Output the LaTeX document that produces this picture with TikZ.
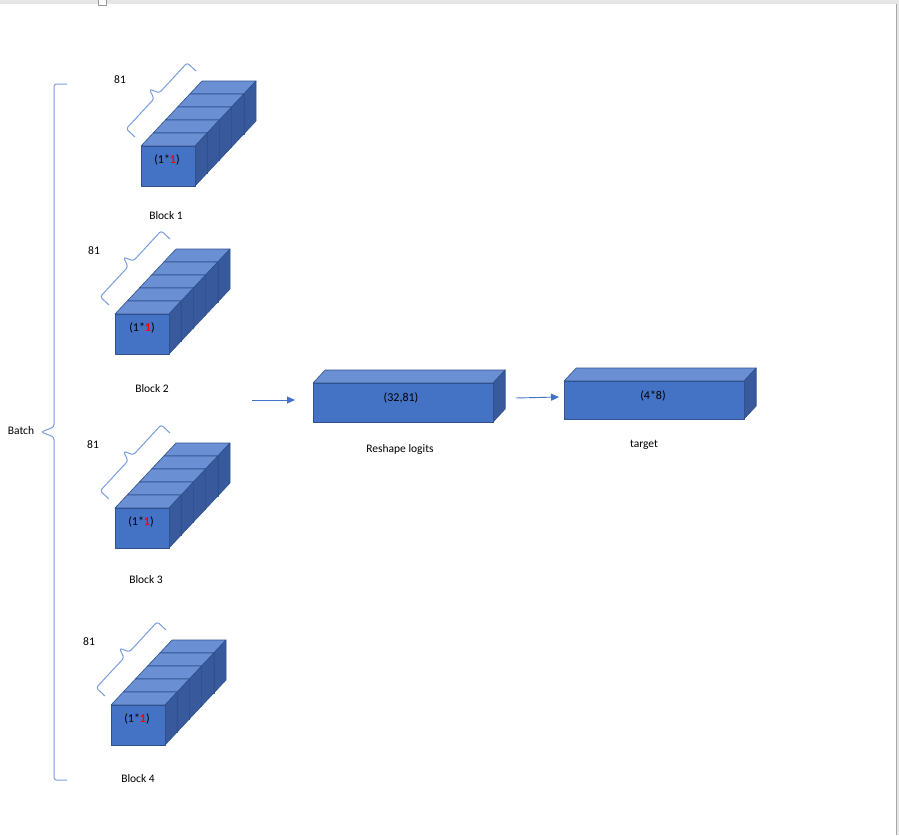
\documentclass[tikz,border=0pt]{standalone}
\usepackage{fontspec}
\setmainfont{Carlito}
\usetikzlibrary{arrows.meta}
\definecolor{frontc}{RGB}{68,114,196}
\definecolor{topc}{RGB}{106,143,210}
\definecolor{sidec}{RGB}{56,90,156}
\definecolor{edgec}{RGB}{47,82,143}
\definecolor{bracec}{RGB}{120,157,222}
\definecolor{arrowc}{RGB}{68,114,196}
\definecolor{chromec}{RGB}{230,230,230}
\newcommand\cubebox[4]{%
  \path[boxface,fill=topc] ({#1},{#2}) -- ({#1+12.2},{#2-13}) -- ({#1+#3+12.2},{#2-13}) -- ({#1+#3},{#2}) -- cycle;
  \path[boxface,fill=sidec] ({#1+#3},{#2}) -- ({#1+#3+12.2},{#2-13}) -- ({#1+#3+12.2},{#2+#4-13}) -- ({#1+#3},{#2+#4}) -- cycle;
  \path[boxface,fill=frontc] ({#1},{#2}) rectangle ({#1+#3},{#2+#4});
}
\newcommand\cubeblock[2]{%
  \foreach \i in {4,3,2,1,0}{\cubebox{#1+12.2*\i}{#2-13*\i}{54}{40}}%
  \begin{scope}[shift={(#1,#2)}]
    \draw[bracestyle] (-6,-9) -- (-14.8,-17.2) -- (13.0,-47.2) -- (8.4,-56.9) -- (18.4,-53.1) -- (46.2,-83.2) -- (55,-75);
  \end{scope}%
}
\newcommand\onebyone{(1*\textbf{\textcolor{red}{1}})}
\begin{document}
\begin{tikzpicture}[x=1pt,y=-1pt,
  boxface/.style={draw=edgec,line width=0.6pt,line join=round},
  lbl/.style={inner sep=0pt,font=\fontsize{11.5pt}{13pt}\selectfont,text=black},
  inlbl/.style={inner sep=0pt,font=\fontsize{12pt}{14pt}\selectfont,text=black},
  bracestyle/.style={draw=bracec,line width=1pt,rounded corners=2.5pt,line join=round},
  arrowstyle/.style={draw=arrowc,line width=0.9pt,-{Triangle[length=8pt,width=7pt]}}]
\useasboundingbox (0,0) rectangle (899,835);
\fill[white] (0,0) rectangle (899,835);
% window chrome
\fill[chromec] (0,0) rectangle (899,4);
\filldraw[fill=white,draw=gray!80,line width=0.6pt] (98,-1) rectangle (106,5);
\fill[chromec] (896,0) rectangle (899,835);
\draw[gray!70,line width=0.8pt] (896.4,4) -- (896.4,835);

% blocks (cubes + 81 braces)
\cubeblock{141}{146}
\cubeblock{115}{314}
\cubeblock{115}{508}
\cubeblock{111}{705}

% reshape and target boxes
\cubebox{313}{383}{180}{39}
\cubebox{564}{381}{180}{38}

% labels on boxes
\node[inlbl] (c1) at (167,160) {\onebyone};
\node[inlbl] (c2) at (142,328) {\onebyone};
\node[inlbl] (c3) at (141,522) {\onebyone};
\node[inlbl] (c4) at (137,719) {\onebyone};
\node[inlbl] (rs) at (401,398) {(32,81)};
\node[inlbl] (tg) at (653,396) {(4*8)};

% captions
\node[lbl] (k1) at (166,216) {Block 1};
\node[lbl] (k2) at (152,389) {Block 2};
\node[lbl] (k3) at (146,580) {Block 3};
\node[lbl] (k4) at (138,779) {Block 4};
\node[lbl] (krs) at (400,449) {Reshape logits};
\node[lbl] (ktg) at (644,445) {target};
\node[lbl] (kb) at (21,431) {Batch};

% 81 labels
\node[lbl] (e1) at (120,80) {81};
\node[lbl] (e2) at (94,251) {81};
\node[lbl] (e3) at (93,445) {81};
\node[lbl] (e4) at (89,642) {81};

% batch brace
\coordinate (bta) at (67,84); \coordinate (btb) at (67,780);
\draw[bracestyle] (bta) -- (54,84) -- (54,427) -- (41,432) -- (54,437) -- (54,780) -- (btb);

% arrows
\coordinate (a1s) at (252,400); \coordinate (a1e) at (295,400);
\coordinate (a2s) at (516,398); \coordinate (a2e) at (559,397);
\draw[arrowstyle] (a1s) -- (a1e);
\draw[arrowstyle] (a2s) -- (a2e);
\end{tikzpicture}
\end{document}
